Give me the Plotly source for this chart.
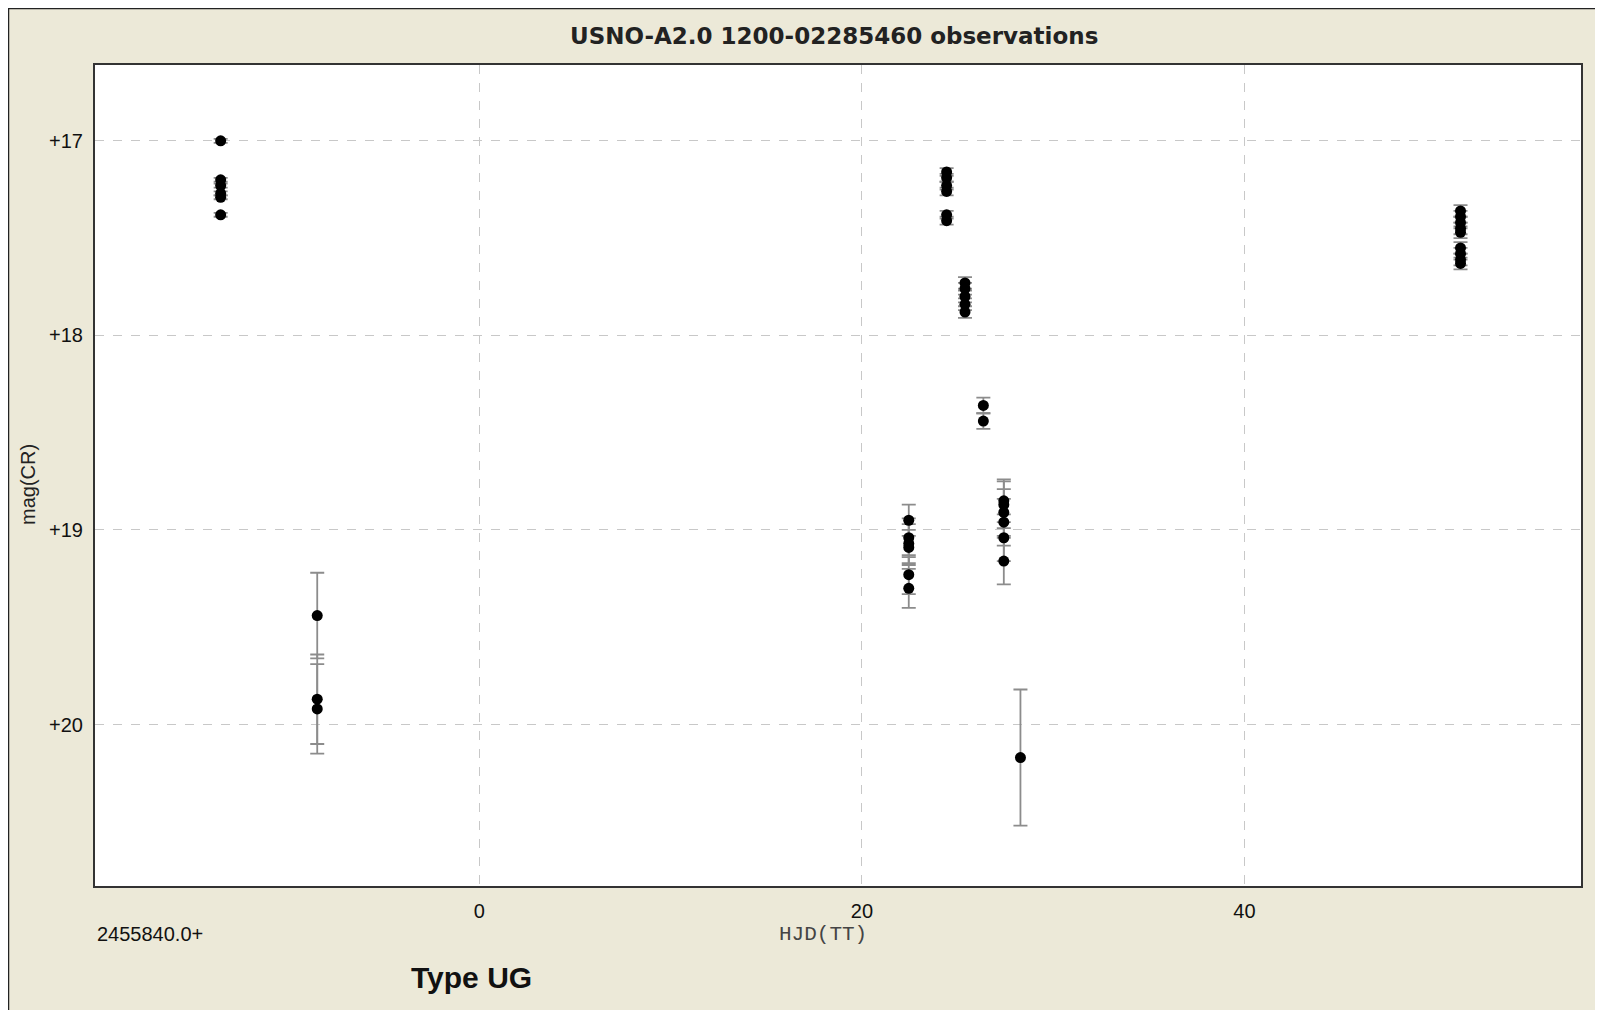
import plotly.graph_objects as go

# ---- data (HJD - 2455840.0, mag(CR), error) ----
c1_x = -13.53
c1_y = [17.00, 17.20, 17.23, 17.27, 17.29, 17.38]
c1_e = [0.01, 0.01, 0.01, 0.01, 0.01, 0.01]

c2_x = -8.48
c2_y = [19.44, 19.87, 19.92]
c2_e = [0.22, 0.23, 0.23]

c3_x = 22.45
c3_y = [18.95, 19.04, 19.07, 19.09, 19.23, 19.30]
c3_e = [0.08, 0.10, 0.10, 0.09, 0.10, 0.10]

c4_x = 24.43
c4_y = [17.16, 17.19, 17.23, 17.26, 17.38, 17.41]
c4_e = [0.02, 0.02, 0.02, 0.02, 0.02, 0.02]

c5_x = 25.39
c5_y = [17.73, 17.76, 17.80, 17.84, 17.88]
c5_e = [0.03, 0.03, 0.03, 0.03, 0.03]

c6_x = 26.35
c6_y = [18.36, 18.44]
c6_e = [0.04, 0.04]

c7_x = 27.42
c7_y = [18.85, 18.87, 18.91, 18.96, 19.04, 19.16]
c7_e = [0.11, 0.12, 0.12, 0.12, 0.12, 0.12]

c8_x = 28.29
c8_y = [20.17]
c8_e = [0.35]

c9_x = 51.30
c9_y = [17.36, 17.39, 17.42, 17.45, 17.47, 17.55, 17.58, 17.61, 17.63]
c9_e = [0.03, 0.03, 0.03, 0.03, 0.03, 0.03, 0.03, 0.03, 0.03]

clusters = [
    (c1_x, c1_y, c1_e), (c2_x, c2_y, c2_e), (c3_x, c3_y, c3_e),
    (c4_x, c4_y, c4_e), (c5_x, c5_y, c5_e), (c6_x, c6_y, c6_e),
    (c7_x, c7_y, c7_e), (c8_x, c8_y, c8_e), (c9_x, c9_y, c9_e),
]

x_ticks = [0, 20, 40]
y_ticks = [17, 18, 19, 20]
y_tick_labels = ["+17", "+18", "+19", "+20"]

BEIGE = "#ECE9D8"
SANS = "Liberation Sans Narrow, Liberation Sans, Arial"
fig = go.Figure()
for cx, cy, ce in clusters:
    fig.add_trace(go.Scatter(
        x=[cx] * len(cy), y=cy, mode="markers",
        marker=dict(color="black", size=11, symbol="circle"),
        error_y=dict(type="data", array=ce, visible=True, color="#8c8c8c",
                     thickness=1.8, width=7),
        showlegend=False, hoverinfo="x+y",
    ))

# figure is placed at page offset (8, 8) by the body margin
W, H = 1595, 1002
L, R, T, B = 87, 1573, 57, 878
pw, ph = R - L, B - T


def px(x):
    return (x - L) / pw


def py(y):
    return (B - y) / ph


shapes = [
    dict(type="line", xref="paper", yref="paper", x0=px(0), x1=px(W),
         y0=py(0.5), y1=py(0.5), line=dict(color="#222", width=1.5), layer="above"),
    dict(type="line", xref="paper", yref="paper", x0=px(0.5), x1=px(0.5),
         y0=py(0), y1=py(H), line=dict(color="#222", width=1.5), layer="above"),
]

annotations = [
    dict(text="<b>USNO-A2.0 1200-02285460 observations</b>", xref="paper", yref="paper",
         x=px(826), y=py(28), xanchor="center", yanchor="middle", showarrow=False,
         font=dict(family="DejaVu Sans", size=23, color="#222")),
    dict(text="mag(CR)", xref="paper", yref="paper", x=px(20), y=py(477),
         xanchor="center", yanchor="middle", textangle=-90, showarrow=False,
         font=dict(family=SANS, size=20, color="#222")),
    dict(text="2455840.0+", xref="paper", yref="paper", x=px(87), y=py(926),
         xanchor="left", yanchor="middle", showarrow=False,
         font=dict(family=SANS, size=20, color="#111")),
    dict(text="HJD(TT)", xref="paper", yref="paper", x=px(815), y=py(927),
         xanchor="center", yanchor="middle", showarrow=False,
         font=dict(family="Liberation Mono, DejaVu Sans Mono, monospace", size=21, color="#444")),
    dict(text="<b>Type UG</b>", xref="paper", yref="paper", x=px(464), y=py(969),
         xanchor="center", yanchor="middle", showarrow=False,
         font=dict(family=SANS, size=30, color="#111")),
]

fig.update_layout(
    width=W, height=H,
    margin=dict(l=L, r=W - R, t=T, b=H - B, pad=0),
    paper_bgcolor=BEIGE, plot_bgcolor="white",
    shapes=shapes, annotations=annotations,
    xaxis=dict(range=[-20.1, 57.6], tickvals=x_ticks, ticktext=[str(v) for v in x_ticks],
               showgrid=True, gridcolor="#c8c8c8", griddash="dash", gridwidth=1,
               zeroline=False, showline=True, linecolor="#333", linewidth=2, mirror=True,
               ticks="", ticklabelstandoff=6,
               tickfont=dict(family=SANS, size=20, color="#111")),
    yaxis=dict(range=[20.83, 16.61], tickvals=y_ticks, ticktext=y_tick_labels,
               showgrid=True, gridcolor="#c8c8c8", griddash="dash", gridwidth=1,
               zeroline=False, showline=True, linecolor="#333", linewidth=2, mirror=True,
               ticks="", ticklabelstandoff=6,
               tickfont=dict(family=SANS, size=20, color="#111")),
)

fig.write_html("out.html")
